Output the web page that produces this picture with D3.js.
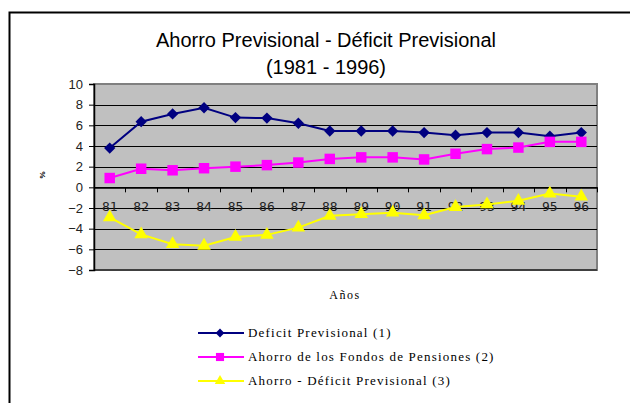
<!DOCTYPE html>
<html lang="es">
<meta charset="utf-8">
<head>
<script src="https://cdn.jsdelivr.net/npm/d3@7"></script>
<style>
  body { margin: 0; background: #fff; }
  svg { display: block; }
</style>
</head>
<body>
<svg id="chart" width="630" height="403"></svg>
<script>
// data
var years = ["81","82","83","84","85","86","87","88","89","90","91","92","93","94","95","96"];
var deficit = [3.8, 6.35, 7.1, 7.7, 6.75, 6.7, 6.2, 5.45, 5.45, 5.45, 5.3, 5.05, 5.3, 5.3, 4.95, 5.3];
var ahorro  = [0.9, 1.8, 1.65, 1.85, 2.0, 2.15, 2.4, 2.75, 2.9, 2.9, 2.7, 3.25, 3.7, 3.85, 4.4, 4.4];
var diferencia = [-2.9, -4.55, -5.5, -5.65, -4.8, -4.6, -3.9, -2.75, -2.6, -2.45, -2.7, -1.9, -1.65, -1.3, -0.6, -0.9];
var yTicks = [-8, -6, -4, -2, 0, 2, 4, 6, 8, 10];
var seriesNames = ["Deficit Previsional (1)", "Ahorro de los Fondos de Pensiones (2)", "Ahorro - Déficit Previsional (3)"];

var svg = d3.select("#chart");

// outer frame (runs off the right and bottom of the picture)
svg.append("rect")
  .attr("x", 9.5).attr("y", 12.5)
  .attr("width", 640).attr("height", 420)
  .attr("fill", "none").attr("stroke", "#000").attr("stroke-width", 2);

var pLeft = 94, pRight = 597, pTop = 84, pBottom = 270;

var x = d3.scaleBand().domain(years).range([pLeft, pRight]);
var y = d3.scaleLinear().domain([-8, 10]).range([pBottom, pTop]);

// plot area
svg.append("rect")
  .attr("x", pLeft).attr("y", pTop)
  .attr("width", pRight - pLeft).attr("height", pBottom - pTop)
  .attr("fill", "#c0c0c0").attr("stroke", "#808080").attr("stroke-width", 2);

// gridlines
svg.append("g")
  .selectAll("line")
  .data(yTicks.filter(function(d) { return d > -8 && d < 10; }))
  .enter().append("line")
    .attr("x1", pLeft).attr("x2", pRight)
    .attr("y1", function(d) { return Math.round(y(d)) + 0.5; })
    .attr("y2", function(d) { return Math.round(y(d)) + 0.5; })
    .attr("stroke", "#000").attr("stroke-width", 1);

// bottom line
svg.append("line")
  .attr("x1", pLeft).attr("x2", pRight)
  .attr("y1", pBottom).attr("y2", pBottom)
  .attr("stroke", "#000").attr("stroke-width", 1);

// y axis
var yAxis = svg.append("g")
  .attr("transform", "translate(" + pLeft + ",0)")
  .call(d3.axisLeft(y).tickValues(yTicks).tickSize(5).tickPadding(6));
yAxis.select(".domain").attr("stroke", "#000").attr("stroke-width", 1.5);
yAxis.selectAll("text")
  .attr("font-family", "Liberation Sans, Arial, sans-serif")
  .attr("font-size", 13).attr("fill", "#222");

// x axis at zero
var xAxis = svg.append("g")
  .attr("transform", "translate(0," + (Math.round(y(0)) + 0.5) + ")")
  .call(d3.axisBottom(x).tickSize(0).tickPadding(14));
xAxis.select(".domain").attr("stroke", "#000").attr("stroke-width", 1.5);
xAxis.selectAll("text")
  .attr("font-family", "DejaVu Sans Mono, monospace")
  .attr("font-size", 13).attr("fill", "#222");
// tick marks between categories
svg.append("g")
  .selectAll("line")
  .data(years)
  .enter().append("line")
    .attr("x1", function(d, i) { return Math.round(pLeft + x.step() * (i + 1)) + 0.5; })
    .attr("x2", function(d, i) { return Math.round(pLeft + x.step() * (i + 1)) + 0.5; })
    .attr("y1", y(0)).attr("y2", y(0) + 5)
    .attr("stroke", "#000").attr("stroke-width", 1);

var cx = function(d, i) { return x(years[i]) + x.bandwidth() / 2; };
var line = d3.line()
  .x(function(d, i) { return cx(d, i); })
  .y(function(d) { return y(d); });

var series = [
  { values: deficit, color: "#000080", symbol: d3.symbolSquare, size: 64, rot: 45 },
  { values: ahorro, color: "#ff00ff", symbol: d3.symbolSquare, size: 110, rot: 0 },
  { values: diferencia, color: "#ffff00", symbol: d3.symbolTriangle, size: 80, rot: 0 }
];

series.forEach(function(s) {
  svg.append("path")
    .datum(s.values)
    .attr("d", line)
    .attr("fill", "none")
    .attr("stroke", s.color)
    .attr("stroke-width", 2);
  svg.append("g")
    .selectAll("path")
    .data(s.values)
    .enter().append("path")
      .attr("transform", function(d, i) {
        return "translate(" + cx(d, i) + "," + y(d) + ") rotate(" + s.rot + ")";
      })
      .attr("d", d3.symbol().type(s.symbol).size(s.size))
      .attr("fill", s.color);
});

// title
var title = svg.append("text")
  .attr("x", 326).attr("y", 47)
  .attr("text-anchor", "middle")
  .attr("font-family", "Liberation Sans, Arial, sans-serif")
  .attr("font-size", 20).attr("fill", "#000");
title.append("tspan").attr("x", 326).text("Ahorro Previsional - Déficit Previsional");
title.append("tspan").attr("x", 326).attr("dy", 27).text("(1981 - 1996)");

// y label
svg.append("text")
  .attr("transform", "translate(45,175) rotate(-90)")
  .attr("text-anchor", "middle")
  .attr("font-family", "Liberation Sans, Arial, sans-serif")
  .attr("font-size", 8).attr("font-weight", "bold")
  .text("%");

// x label
svg.append("text")
  .attr("x", 345).attr("y", 299)
  .attr("text-anchor", "middle")
  .attr("font-family", "Liberation Serif, serif")
  .attr("font-size", 12).attr("letter-spacing", 1.5)
  .text("Años");

// legend
var legend = svg.append("g")
  .selectAll("g")
  .data(series)
  .enter().append("g")
    .attr("transform", function(d, i) { return "translate(198," + (333 + i * 24) + ")"; });
legend.append("line")
  .attr("x1", 0).attr("x2", 46)
  .attr("stroke", function(d) { return d.color; })
  .attr("stroke-width", 2);
legend.append("path")
  .attr("transform", function(d) { return "translate(22,0) rotate(" + d.rot + ")"; })
  .attr("d", function(d) { return d3.symbol().type(d.symbol).size(d.size * 0.6)(); })
  .attr("fill", function(d) { return d.color; });
legend.append("text")
  .attr("x", 50).attr("y", 4)
  .attr("font-family", "Liberation Serif, serif")
  .attr("font-size", 13).attr("letter-spacing", 1.2)
  .text(function(d, i) { return seriesNames[i]; });
</script>
</body>
</html>
